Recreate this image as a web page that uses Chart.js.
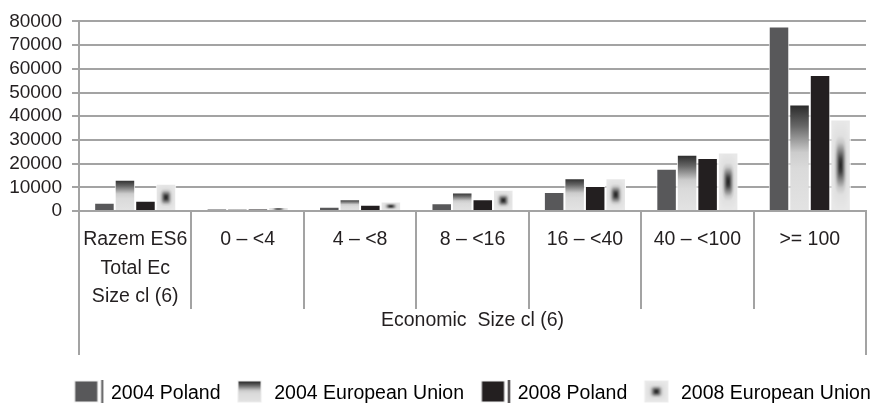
<!DOCTYPE html>
<html>
<head>
<meta charset="utf-8">
<script src="https://cdn.jsdelivr.net/npm/chart.js@4/dist/chart.umd.min.js"></script>
<style>
  html, body { margin: 0; padding: 0; background: #ffffff; }
  #wrap { width: 874px; height: 403px; }
</style>
</head>
<body>
<div id="wrap"><canvas id="chart" width="874" height="403"></canvas></div>
<script>
// Categories (economic size classes) and the four series
const categories = [
  ['Razem ES6', 'Total Ec', 'Size cl (6)'],
  '0 – <4', '4 – <8', '8 – <16', '16 – <40', '40 – <100', '>= 100'
];
const seriesNames = ['2004 Poland', '2004 European Union', '2008 Poland', '2008 European Union'];
const poland2004 = [3500, 900, 1800, 3300, 8000, 17800, 77900];
const eu2004     = [13200, 1000, 5000, 7800, 13800, 23700, 44900];
const poland2008 = [4300, 900, 2600, 5000, 10500, 22400, 57400];
const eu2008     = [11500, 1700, 4000, 9000, 13800, 24700, 38600];
const yTickValues = [0, 10000, 20000, 30000, 40000, 50000, 60000, 70000, 80000];
const axisTitle = 'Economic  Size cl (6)';

const INK = '#231f20';
const RULE = '#a3a3a3';
const FONT = "'Liberation Sans', Arial, Helvetica, sans-serif";
const CAT_PCT = 0.73;
const BAR_PCT = 1;
const LEGEND_TOP = 366.75;

// grey level for the centred shading (t = 0 at centre, 1 at edge)
function shadeAt(t) {
  const stops = [[0, 32], [0.15, 62], [0.3, 125], [0.5, 200], [0.65, 224], [1, 232]];
  if (t >= 1) return 232;
  for (let i = 1; i < stops.length; i++) {
    if (t <= stops[i][0]) {
      const [t0, v0] = stops[i - 1], [t1, v1] = stops[i];
      return v0 + (v1 - v0) * (t - t0) / (t1 - t0);
    }
  }
  return 232;
}

function centreCanvas(w, h, pad) {
  const W = Math.max(1, Math.ceil(w + pad * 2));
  const H = Math.max(1, Math.ceil(h + pad * 2));
  const cv = document.createElement('canvas');
  cv.width = W; cv.height = H;
  const c = cv.getContext('2d');
  const img = c.createImageData(W, H);
  const cx = pad + w / 2, cy = pad + h / 2;
  const hw = Math.max(w / 2, 0.5), hh = Math.max(h / 2, 0.5);
  const p = 3;
  for (let y = 0; y < H; y++) {
    for (let x = 0; x < W; x++) {
      const u = Math.abs(x + 0.5 - cx) / hw, v = Math.abs(y + 0.5 - cy) / hh;
      const t = Math.pow(Math.pow(u, p) + Math.pow(v, p), 1 / p);
      const g = Math.round(shadeAt(t));
      const k = (y * W + x) * 4;
      img.data[k] = img.data[k + 1] = img.data[k + 2] = g;
      img.data[k + 3] = 255;
    }
  }
  c.putImageData(img, 0, 0);
  return cv;
}

function addFadeStops(g) {
  g.addColorStop(0, '#282828');
  g.addColorStop(0.2, '#666666');
  g.addColorStop(0.45, '#cccccc');
  g.addColorStop(0.6, '#dadada');
  g.addColorStop(1, '#e3e3e3');
}

// outer rectangle of a bar, worked out from the scales the same way the bar controller does
function barRect(ctx) {
  const chart = ctx.chart;
  const xs = chart.scales.x, ys = chart.scales.y;
  if (!xs || !ys || !chart.chartArea) return null;
  const n = chart.data.labels.length;
  const catW = xs.width / n;
  const size = catW * CAT_PCT;
  const chunk = size / chart.data.datasets.length;
  const centre = xs.getPixelForValue(ctx.dataIndex);
  const left = centre - size / 2 + chunk * ctx.datasetIndex + chunk * (1 - BAR_PCT) / 2;
  const w = chunk * BAR_PCT;
  const top = ys.getPixelForValue(ctx.raw);
  const base = ys.getPixelForValue(0);
  if (!isFinite(left) || !isFinite(top) || !isFinite(base)) return null;
  return { left, w, top, h: base - top };
}

function fadeFill(ctx) {
  if (ctx.type !== 'data') return '#9a9a9a';
  const r = barRect(ctx);
  if (!r) return '#9a9a9a';
  const g = ctx.chart.ctx.createLinearGradient(0, r.top, 0, r.top + Math.max(r.h, 1));
  addFadeStops(g);
  return g;
}

function centreFill(ctx) {
  if (ctx.type !== 'data') return '#d0d0d0';
  const r = barRect(ctx);
  if (!r) return '#d0d0d0';
  const pad = 2;
  const cv = centreCanvas(r.w, Math.max(r.h, 1), pad);
  const p = ctx.chart.ctx.createPattern(cv, 'no-repeat');
  p.setTransform(new DOMMatrix().translate(r.left - pad, r.top - pad));
  return p;
}

// legend markers
function marker(kind) {
  const cv = document.createElement('canvas');
  cv.width = 36; cv.height = 28;
  const c = cv.getContext('2d');
  const bx = 4.5, by = 1, bw = 24, bh = 22;
  c.fillStyle = '#ececec';
  c.fillRect(bx, by, bw, bh);
  const ix = bx + 1, iy = by + 1, iw = bw - 2, ih = bh - 2;
  if (kind === 'solidGrey' || kind === 'solidBlack') {
    const col = kind === 'solidGrey' ? '#58585a' : INK;
    c.fillStyle = col;
    c.fillRect(ix, iy, iw, ih);
    c.fillRect(31.5, 0, 2, 25);
  } else if (kind === 'fade') {
    const g = c.createLinearGradient(0, iy, 0, iy + ih);
    addFadeStops(g);
    c.fillStyle = g;
    c.fillRect(ix, iy, iw, ih);
  } else {
    c.drawImage(centreCanvas(iw, ih, 0), ix, iy);
  }
  return cv;
}
const markers = [marker('solidGrey'), marker('fade'), marker('solidBlack'), marker('centre')];

const frameLines = {
  id: 'frameLines',
  afterLayout(chart) {
    const L = chart.legend, a = chart.chartArea;
    if (!L) return;
    const shift = (a.left + a.right) / 2 - (L.left + L.right) / 2;
    L.left += shift; L.right += shift;
    const dy = LEGEND_TOP - L.top;
    L.top += dy; L.bottom += dy;
  },
  afterDraw(chart) {
    const a = chart.chartArea, xs = chart.scales.x, c = chart.ctx;
    c.save();
    c.strokeStyle = RULE;
    c.lineWidth = 2;
    c.beginPath();
    [a.left, a.right].forEach(x => {
      c.moveTo(Math.round(x), a.bottom);
      c.lineTo(Math.round(x), xs.bottom);
    });
    c.stroke();
    c.restore();
  }
};

Chart.defaults.font.family = FONT;
Chart.defaults.color = INK;

new Chart(document.getElementById('chart'), {
  type: 'bar',
  data: {
    labels: categories,
    datasets: [
      { label: seriesNames[0], data: poland2004, backgroundColor: '#58585a' },
      { label: seriesNames[1], data: eu2004, backgroundColor: fadeFill },
      { label: seriesNames[2], data: poland2008, backgroundColor: INK },
      { label: seriesNames[3], data: eu2008, backgroundColor: centreFill }
    ]
  },
  options: {
    responsive: false,
    animation: false,
    devicePixelRatio: 1,
    layout: { padding: { top: 19, right: 8, bottom: 1.5, left: 0 } },
    datasets: {
      bar: {
        categoryPercentage: CAT_PCT,
        barPercentage: BAR_PCT,
        borderColor: '#ffffff',
        borderWidth: 1
      }
    },
    plugins: {
      tooltip: { enabled: false },
      legend: {
        position: 'bottom',
        labels: {
          usePointStyle: true,
          pointStyleWidth: 27,
          padding: 17,
          color: INK,
          font: { size: 19.5 },
          generateLabels: () => seriesNames.map((name, i) => ({
            text: name,
            pointStyle: markers[i],
            fillStyle: '#888',
            strokeStyle: '#888',
            lineWidth: 0,
            hidden: false,
            datasetIndex: i
          }))
        }
      }
    },
    scales: {
      x: {
        grid: {
          display: true,
          drawOnChartArea: false,
          drawTicks: true,
          tickLength: 98,
          color: RULE,
          lineWidth: 2,
          offset: true
        },
        border: { display: true, color: RULE, width: 2 },
        ticks: {
          autoSkip: false,
          maxRotation: 0,
          minRotation: 0,
          padding: -83.25,
          color: INK,
          font: { size: 19.5, lineHeight: 28.5 / 19.5 }
        },
        title: {
          display: true,
          text: axisTitle,
          color: INK,
          font: { size: 19.5 },
          padding: { top: 0, bottom: 22.8 }
        },
        afterFit: s => { s.height = 144; }
      },
      y: {
        min: 0,
        max: 80000,
        afterBuildTicks: s => { s.ticks = yTickValues.map(v => ({ value: v })); },
        grid: {
          color: RULE,
          lineWidth: 2,
          drawTicks: true,
          tickLength: 7
        },
        border: { display: true, color: RULE, width: 2 },
        ticks: {
          autoSkip: false,
          padding: 10,
          color: INK,
          font: { size: 19 },
          callback: v => String(v)
        },
        afterFit: s => { s.width = 79; }
      }
    }
  },
  plugins: [frameLines]
});
</script>
</body>
</html>
